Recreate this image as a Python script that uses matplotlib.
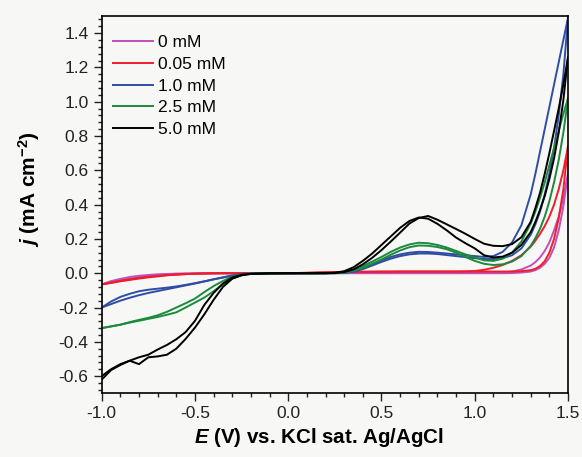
import matplotlib
matplotlib.use("Agg")
import matplotlib.pyplot as plt
from matplotlib.ticker import MultipleLocator

plt.rcParams['font.family'] = ['Liberation Sans', 'DejaVu Sans']
plt.rcParams['mathtext.fontset'] = 'custom'
plt.rcParams['mathtext.rm'] = 'Liberation Sans'
plt.rcParams['mathtext.it'] = 'Liberation Sans:italic'
plt.rcParams['mathtext.bf'] = 'Liberation Sans:bold'
plt.rcParams['mathtext.bfit'] = 'Liberation Sans:bold:italic'

# potential grid (V) shared by all scan branches
E = [-1.0, -0.95, -0.9, -0.85, -0.8, -0.75, -0.7, -0.65, -0.6, -0.55,
     -0.5, -0.45, -0.4, -0.35, -0.3, -0.25, -0.2, -0.1, 0.0, 0.1,
     0.2, 0.25, 0.3, 0.35, 0.4, 0.45, 0.5, 0.55, 0.6, 0.65,
     0.7, 0.75, 0.8, 0.85, 0.9, 0.95, 1.0, 1.05, 1.1, 1.15,
     1.2, 1.25, 1.3, 1.325, 1.35, 1.375, 1.4, 1.425, 1.45, 1.475, 1.5]

# current density (mA cm-2), two branches per concentration
j_0_a = [-0.065, -0.052, -0.041, -0.031, -0.023, -0.017, -0.012, -0.008, -0.005, -0.003,
         -0.002, -0.001, 0.0, 0.0, 0.0, 0.0, 0.0, 0.0, 0.0, 0.0,
         0.001, 0.001, 0.001, 0.002, 0.002, 0.002, 0.002, 0.002, 0.002, 0.002,
         0.002, 0.002, 0.002, 0.002, 0.002, 0.002, 0.002, 0.002, 0.003, 0.005,
         0.01, 0.022, 0.045, 0.065, 0.092, 0.13, 0.18, 0.25, 0.33, 0.44, 0.58]
j_0_b = [-0.065, -0.046, -0.033, -0.022, -0.015, -0.01, -0.006, -0.004, -0.002, -0.001,
         0.0, 0.0, 0.0, 0.0, 0.0, 0.0, 0.0, 0.0, 0.0, 0.0,
         0.0, 0.0, 0.0, 0.0, 0.0, 0.0, 0.0, 0.0, 0.0, 0.0,
         0.0, 0.0, 0.0, 0.0, 0.0, 0.0, 0.0, 0.0, 0.0, 0.0,
         0.001, 0.004, 0.01, 0.018, 0.032, 0.055, 0.09, 0.15, 0.25, 0.39, 0.58]

j_005_a = [-0.065, -0.054, -0.044, -0.036, -0.028, -0.021, -0.016, -0.011, -0.008, -0.005,
           -0.003, -0.001, 0.0, 0.0, 0.0, 0.0, 0.0, 0.0, 0.0, 0.002,
           0.005, 0.006, 0.007, 0.008, 0.008, 0.009, 0.009, 0.009, 0.01, 0.01,
           0.01, 0.01, 0.01, 0.01, 0.01, 0.011, 0.013, 0.02, 0.032, 0.048,
           0.072, 0.105, 0.155, 0.19, 0.23, 0.275, 0.33, 0.4, 0.49, 0.6, 0.74]
j_005_b = [-0.065, -0.057, -0.047, -0.039, -0.031, -0.024, -0.018, -0.012, -0.008, -0.005,
           -0.003, -0.002, -0.001, 0.0, 0.0, 0.0, 0.0, 0.0, 0.0, 0.003,
           0.006, 0.007, 0.008, 0.008, 0.009, 0.009, 0.01, 0.01, 0.01, 0.01,
           0.01, 0.01, 0.01, 0.01, 0.01, 0.01, 0.01, 0.01, 0.01, 0.01,
           0.01, 0.012, 0.018, 0.026, 0.042, 0.07, 0.12, 0.2, 0.32, 0.49, 0.74]

j_10_a = [-0.2, -0.165, -0.138, -0.12, -0.105, -0.096, -0.09, -0.084, -0.077, -0.068,
          -0.058, -0.047, -0.035, -0.024, -0.013, -0.006, -0.002, 0.0, 0.0, 0.0,
          0.0, 0.001, 0.003, 0.012, 0.03, 0.052, 0.075, 0.095, 0.11, 0.12,
          0.125, 0.124, 0.12, 0.115, 0.11, 0.105, 0.1, 0.095, 0.1, 0.125,
          0.18, 0.28, 0.46, 0.58, 0.71, 0.84, 0.97, 1.1, 1.23, 1.36, 1.49]
j_10_b = [-0.2, -0.18, -0.16, -0.143, -0.128, -0.115, -0.104, -0.093, -0.082, -0.071,
          -0.06, -0.048, -0.036, -0.025, -0.014, -0.007, -0.003, -0.001, 0.0, 0.0,
          0.0, 0.0, 0.002, 0.009, 0.024, 0.045, 0.066, 0.085, 0.1, 0.11,
          0.115, 0.115, 0.112, 0.106, 0.1, 0.094, 0.088, 0.083, 0.083, 0.088,
          0.105, 0.145, 0.225, 0.285, 0.36, 0.46, 0.58, 0.73, 0.92, 1.16, 1.49]

j_25_a = [-0.32, -0.31, -0.3, -0.285, -0.272, -0.26, -0.245, -0.225, -0.2, -0.175,
          -0.148, -0.11, -0.075, -0.045, -0.02, -0.008, -0.002, 0.0, 0.0, 0.0,
          0.0, 0.002, 0.006, 0.02, 0.042, 0.068, 0.095, 0.125, 0.15, 0.168,
          0.178, 0.175, 0.165, 0.15, 0.13, 0.11, 0.092, 0.075, 0.072, 0.085,
          0.12, 0.185, 0.29, 0.36, 0.44, 0.53, 0.63, 0.73, 0.83, 0.93, 1.02]
j_25_b = [-0.32, -0.31, -0.3, -0.288, -0.277, -0.266, -0.255, -0.242, -0.228, -0.2,
          -0.171, -0.142, -0.105, -0.064, -0.03, -0.011, -0.003, 0.0, 0.0, 0.0,
          0.0, 0.001, 0.004, 0.014, 0.032, 0.055, 0.08, 0.108, 0.133, 0.152,
          0.162, 0.16, 0.153, 0.14, 0.12, 0.095, 0.072, 0.055, 0.048, 0.052,
          0.068, 0.1, 0.16, 0.205, 0.26, 0.33, 0.42, 0.53, 0.66, 0.82, 1.02]

j_50_a = [-0.6, -0.56, -0.53, -0.51, -0.49, -0.475, -0.445, -0.418, -0.385, -0.343,
          -0.278, -0.185, -0.115, -0.06, -0.025, -0.009, -0.003, 0.0, 0.0, 0.0,
          0.001, 0.003, 0.012, 0.035, 0.072, 0.115, 0.165, 0.215, 0.265, 0.305,
          0.325, 0.318, 0.288, 0.25, 0.208, 0.175, 0.145, 0.105, 0.092, 0.097,
          0.12, 0.165, 0.24, 0.3, 0.37, 0.45, 0.55, 0.67, 0.82, 1.01, 1.26]
j_50_b = [-0.62, -0.565, -0.535, -0.51, -0.53, -0.49, -0.485, -0.475, -0.44, -0.383,
          -0.317, -0.24, -0.155, -0.08, -0.032, -0.012, -0.004, -0.001, 0.0, 0.0,
          0.0, 0.002, 0.007, 0.022, 0.052, 0.09, 0.135, 0.185, 0.237, 0.29,
          0.322, 0.334, 0.312, 0.285, 0.258, 0.23, 0.2, 0.172, 0.16, 0.158,
          0.17, 0.21, 0.3, 0.38, 0.47, 0.58, 0.7, 0.83, 0.96, 1.1, 1.26]

labels = ['0 mM', '0.05 mM', '1.0 mM', '2.5 mM', '5.0 mM']
colors = ['#c24fba', '#ee1d2c', '#2f4ea3', '#1c8a3c', '#000000']
branches = [(j_0_a, j_0_b), (j_005_a, j_005_b), (j_10_a, j_10_b),
            (j_25_a, j_25_b), (j_50_a, j_50_b)]

bg = '#f7f7f6'
fig = plt.figure(figsize=(5.82, 4.57), dpi=100, facecolor=bg)
ax = fig.add_axes([0.1747, 0.1394, 0.8013, 0.8256], facecolor=bg)

for (ja, jb), c, lab in zip(branches, colors, labels):
    ax.plot(E, ja, color=c, lw=1.4, label=lab)
    ax.plot(E, jb, color=c, lw=1.4)

ax.set_xlim(-1.0, 1.5)
ax.set_ylim(-0.7, 1.5)
ax.xaxis.set_major_locator(MultipleLocator(0.5))
ax.xaxis.set_minor_locator(MultipleLocator(0.1))
ax.yaxis.set_major_locator(MultipleLocator(0.2))
ax.yaxis.set_minor_locator(MultipleLocator(0.04))
ax.xaxis.set_major_formatter(plt.FormatStrFormatter('%.1f'))
ax.yaxis.set_major_formatter(plt.FormatStrFormatter('%.1f'))
ax.tick_params(which='both', direction='out', top=False, right=False,
               labelsize=12.5, width=1.0, colors='#222222')
ax.tick_params(which='major', length=6, pad=3.5)
ax.tick_params(which='minor', length=3)
for s in ax.spines.values():
    s.set_linewidth(1.2)

ax.set_xlabel(r'$\mathbfit{E}$ (V) vs. KCl sat. Ag/AgCl', fontsize=14.8,
              fontweight='bold')
ax.set_ylabel(r'$\mathbfit{j}$ (mA cm$^{\mathbf{-2}}$)', fontsize=15,
              fontweight='bold')
ax.xaxis.set_label_coords(0.465, -0.088)
ax.yaxis.set_label_coords(-0.128, 0.54)

ax.legend(loc='upper left', frameon=False, fontsize=12.5, handlelength=2.3,
          labelspacing=0.38, handletextpad=0.3, borderaxespad=0.0,
          bbox_to_anchor=(0.009, 0.968))

fig.savefig('out.png', dpi=100, facecolor=bg)
